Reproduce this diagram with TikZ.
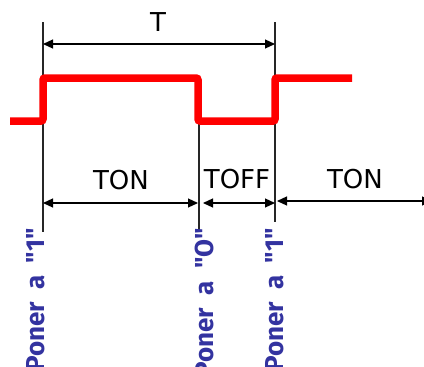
\documentclass[tikz,border=0pt]{standalone}
\usepackage{fontspec}
\setmainfont{DejaVu Sans}
\newfontfamily\ponerfont{Fira Sans}
\usepackage{tikz}
\usetikzlibrary{arrows.meta, positioning}
\definecolor{pulseColor}{RGB}{255,0,0}
\definecolor{ponerColor}{RGB}{51,51,160}

\begin{document}
\begin{tikzpicture}[x=1pt, y=-1pt, >={Triangle[length=10pt, width=9pt]},
    marker/.style={line width=1.2pt, black!85},
    dim/.style={<->, line width=1.2pt},
    lbl/.style={inner sep=0pt, font=\fontsize{26}{30}\selectfont},
    poner/.style={rotate=90, anchor=east, inner sep=0pt, text=ponerColor, font=\fontsize{26}{30}\ponerfont\bfseries}]
        \useasboundingbox (0,0) rectangle (424,367);

        % Marker lines (edges of the pulse)
        \coordinate (m1top) at (43,22);
        \coordinate (m1bot) at (43,232);
        \coordinate (m2top) at (199,120);
        \coordinate (m2bot) at (199,230);
        \coordinate (m3top) at (275,22);
        \coordinate (m3bot) at (275,222);
        \draw[marker] (m1top) -- (m1bot);
        \draw[marker] (m2top) -- (m2bot);
        \draw[marker] (m3top) -- (m3bot);

        % Period T
        \coordinate (t1) at (43,44);
        \coordinate (t2) at (275,44);
        \draw[dim] (t1) -- (t2);
        \node[lbl] (tlabel) at (158,22) {T};

        % Pulse train
        \draw[pulseColor, line width=7.5pt, rounded corners=2pt]
            (10,121) -- (43,121) -- (43,78) -- (198,78) -- (198,121) -- (275,121) -- (275,78) -- (352,78);

        % TON / TOFF intervals
        \coordinate (on1a) at (43,203);
        \coordinate (on1b) at (198,203);
        \coordinate (offa) at (203,203);
        \coordinate (offb) at (275,203);
        \coordinate (on2a) at (277,201);
        \coordinate (on2b) at (432,201);
        \draw[dim] (on1a) -- (on1b);
        \draw[dim] (offa) -- (offb);
        \draw[dim] (on2a) -- (on2b);
        \node[lbl] (ton1) at (121,180) {TON};
        \node[lbl] (toff) at (237,179) {TOFF};
        \node[lbl] (ton2) at (355,179) {TON};

        % Set/reset events
        \node[poner] (set1) at (36,228) {Poner\ \ a\ \ "1"};
        \node[poner] (reset) at (204,228) {Poner\ \ a\ \ "O"};
        \node[poner] (set2) at (275,228) {Poner\ \ a\ \ "1"};
    \end{tikzpicture}
\end{document}
